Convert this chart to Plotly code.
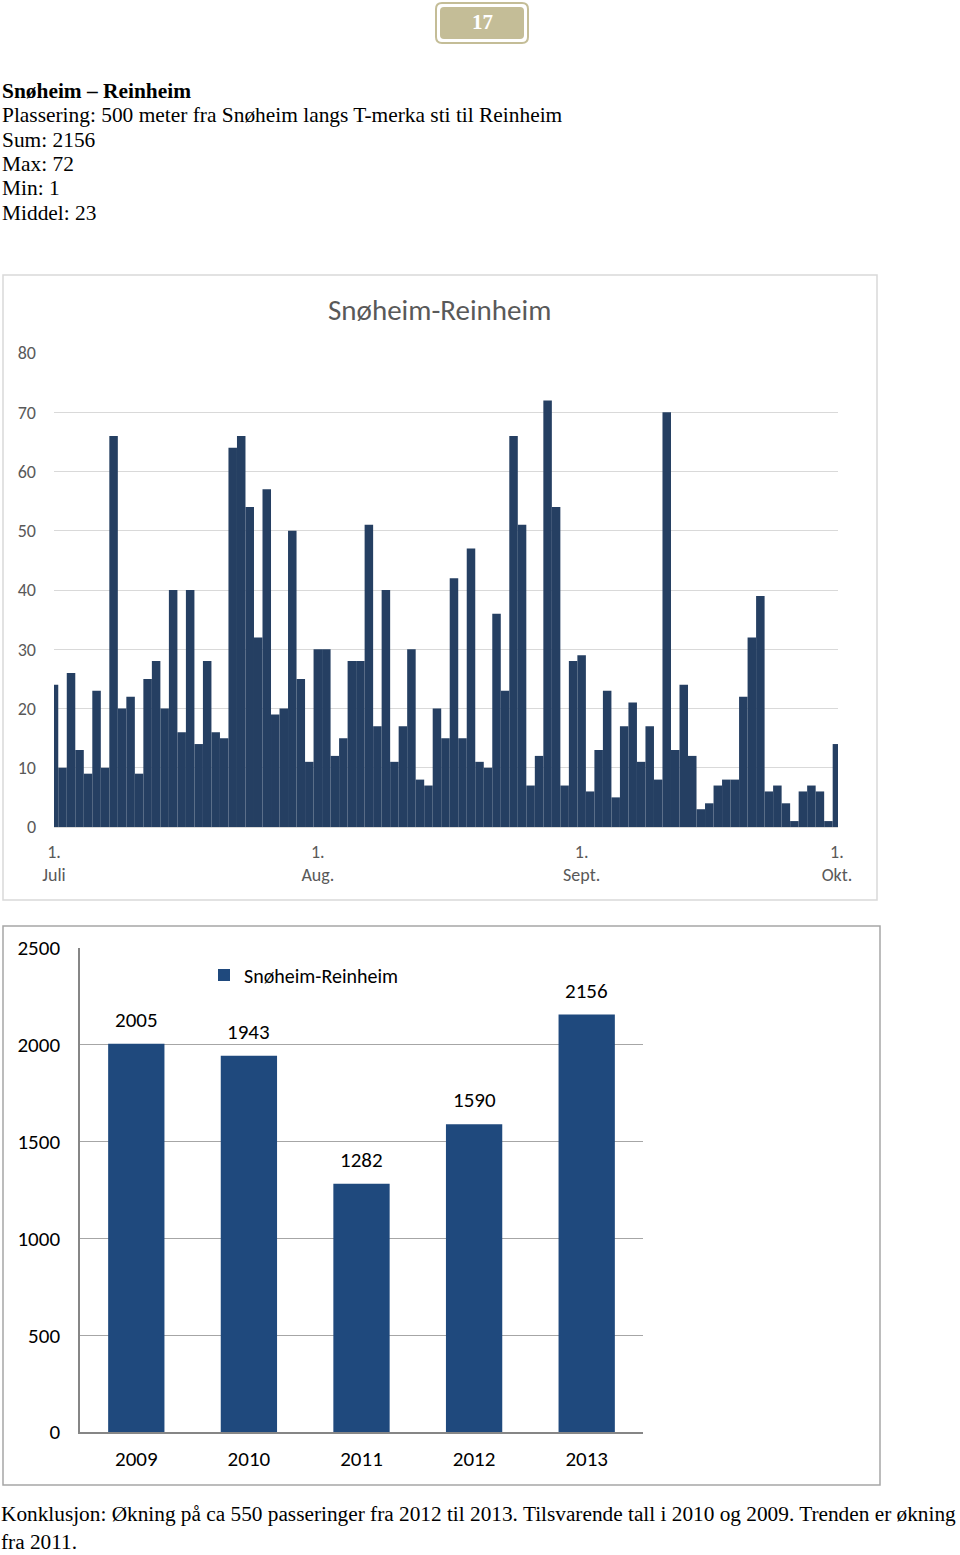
import plotly.graph_objects as go
import pandas as pd

W, H = 960, 1555

# ---------------- data ----------------
july = [24, 10, 26, 13, 9, 23, 10, 66, 20, 22, 9, 25, 28, 20, 40, 16, 40, 14, 28, 16,
        15, 64, 66, 54, 32, 57, 19, 20, 50, 25, 11]
aug = [30, 30, 12, 15, 28, 28, 51, 17, 40, 11, 17, 30, 8, 7, 20, 15, 42, 15, 47, 11,
       10, 36, 23, 66, 51, 7, 12, 72, 54, 7, 28]
sept = [29, 6, 13, 23, 5, 17, 21, 11, 17, 8, 70, 13, 24, 12, 3, 4, 7, 8, 8, 22,
        32, 39, 6, 7, 4, 1, 6, 7, 6, 1]
okt = [14]
daily = july + aug + sept + okt
dates = pd.date_range("2013-07-01", periods=len(daily), freq="D")

month_ticks = ["2013-07-01", "2013-08-01", "2013-09-01", "2013-10-01"]
month_labels = ["1.<br>Juli", "1.<br>Aug.", "1.<br>Sept.", "1.<br>Okt."]

years = ["2009", "2010", "2011", "2012", "2013"]
totals = [2005, 1943, 1282, 1590, 2156]

series_name = "Snøheim-Reinheim"

# ---------------- helpers ----------------
def px(x):
    return x / W

def py(y):
    return 1 - y / H

SANS = "Carlito, Lato, sans-serif"
SERIF = "Liberation Serif, Times New Roman, serif"

fig = go.Figure()
fig.add_trace(go.Bar(
    x=dates, y=daily, width=86400000,
    marker=dict(color="#253F62", line=dict(width=0)),
    xaxis="x", yaxis="y", showlegend=False, hoverinfo="x+y"))
fig.add_trace(go.Bar(
    x=years, y=totals, width=0.5, name=series_name,
    marker=dict(color="#1F497D", line=dict(width=0)),
    xaxis="x2", yaxis="y2", showlegend=True))

annotations = []
# data labels chart 2 (category index positions)
for i, v in enumerate(totals):
    annotations.append(dict(x=i, y=v, xref="x2", yref="y2", text=str(v),
                            showarrow=False, yanchor="bottom", yshift=9,
                            font=dict(family=SANS, size=21, color="#000000")))
# chart 1 title
annotations.append(dict(x=px(439.5), y=py(310), xref="paper", yref="paper",
                        text=series_name, showarrow=False, xanchor="center", yanchor="middle",
                        font=dict(family=SANS, size=29, color="#595959")))
# page number
annotations.append(dict(x=px(482), y=py(22), xref="paper", yref="paper", text="<b>17</b>",
                        showarrow=False, xanchor="center", yanchor="middle",
                        font=dict(family=SERIF, size=21, color="#FFFFFF")))
# header text block
header = [("<b>Snøheim – Reinheim</b>", 91),
          ("Plassering: 500 meter fra Snøheim langs T-merka sti til Reinheim", 115),
          ("Sum: 2156", 140),
          ("Max: 72", 164),
          ("Min: 1", 188),
          ("Middel: 23", 213)]
for t, yy in header:
    annotations.append(dict(x=0, y=py(yy), xref="paper", yref="paper", text=t,
                            showarrow=False, xanchor="left", yanchor="middle",
                            font=dict(family=SERIF, size=21.4, color="#000000")))
# footer text block (two lines)
footer = ("Konklusjon: Økning på ca 550 passeringer fra 2012 til 2013. Tilsvarende tall i 2010 og 2009. "
          "Trenden er økning<br>fra 2011.")
annotations.append(dict(x=0, y=0, xref="paper", yref="paper", text=footer, align="left",
                        showarrow=False, xanchor="left", yanchor="bottom", borderpad=0,
                        font=dict(family=SERIF, size=21.3, color="#000000")))


def rrect(x0, y0, x1, y1, r):
    return (f"M{px(x0 + r)},{py(y0)} L{px(x1 - r)},{py(y0)} Q{px(x1)},{py(y0)} {px(x1)},{py(y0 + r)} "
            f"L{px(x1)},{py(y1 - r)} Q{px(x1)},{py(y1)} {px(x1 - r)},{py(y1)} "
            f"L{px(x0 + r)},{py(y1)} Q{px(x0)},{py(y1)} {px(x0)},{py(y1 - r)} "
            f"L{px(x0)},{py(y0 + r)} Q{px(x0)},{py(y0)} {px(x0 + r)},{py(y0)} Z")

shapes = [
    # chart boxes
    dict(type="rect", xref="paper", yref="paper", x0=px(3), x1=px(877), y0=py(900), y1=py(275),
         line=dict(color="#D9D9D9", width=1.5), fillcolor="rgba(0,0,0,0)", layer="below"),
    dict(type="rect", xref="paper", yref="paper", x0=px(3), x1=px(880), y0=py(1485), y1=py(926),
         line=dict(color="#A6A6A6", width=1.5), fillcolor="rgba(0,0,0,0)", layer="below"),
    # page badge
    dict(type="path", xref="paper", yref="paper", path=rrect(436, 3, 528, 43, 6),
         line=dict(color="#C4BD97", width=2), fillcolor="rgba(0,0,0,0)"),
    dict(type="path", xref="paper", yref="paper", path=rrect(440, 7, 524, 39, 4),
         line=dict(width=0), fillcolor="#C4BD97", layer="below"),
]

fig.update_layout(
    template="none",
    width=W, height=H, margin=dict(l=0, r=0, t=0, b=0, pad=0, autoexpand=False),
    paper_bgcolor="#FFFFFF", plot_bgcolor="rgba(0,0,0,0)",
    font=dict(family=SANS),
    barmode="group",
    xaxis=dict(domain=[px(54), px(838)], anchor="y", type="date",
               range=["2013-07-01", "2013-10-01 03:00"],
               tickmode="array", tickvals=month_ticks, ticktext=month_labels,
               tickfont=dict(family=SANS, size=18, color="#595959"),
               showgrid=False, showline=False, zeroline=False, ticks="",
               ticklabelstandoff=12, automargin=False),
    yaxis=dict(domain=[py(827), py(353)], anchor="x", range=[0, 80], dtick=10,
               showgrid=True, gridcolor="#D9D9D9", gridwidth=1,
               zeroline=True, zerolinecolor="#D9D9D9", zerolinewidth=1,
               tickfont=dict(family=SANS, size=18, color="#595959"),
               ticks="", ticklabelstandoff=17, showline=False, automargin=False),
    xaxis2=dict(domain=[px(80), px(643)], anchor="y2", type="category",
                range=[-0.5, len(years) - 0.5],
                tickfont=dict(family=SANS, size=21, color="#000000"),
                showline=True, linecolor="#868686", linewidth=1.5,
                showgrid=False, zeroline=False, ticks="", ticklabelstandoff=7,
                automargin=False),
    yaxis2=dict(domain=[py(1432), py(948)], anchor="x2", range=[0, 2500], dtick=500,
                showgrid=True, gridcolor="#A6A6A6", gridwidth=1.2, zeroline=False,
                showline=True, linecolor="#868686", linewidth=1.5,
                tickfont=dict(family=SANS, size=21, color="#000000"),
                ticks="", ticklabelstandoff=14, automargin=False),
    legend=dict(x=px(204), y=py(975), xanchor="left", yanchor="middle",
                bgcolor="rgba(0,0,0,0)", borderwidth=0, itemwidth=30,
                font=dict(family=SANS, size=20, color="#000000")),
    annotations=annotations,
    shapes=shapes,
)

fig.write_html(
    "out.html",
    config={"displayModeBar": False},
    post_script="document.body.style.margin='0';document.body.style.padding='0';"
                "document.documentElement.style.overflow='hidden';window.dispatchEvent(new Event('resize'));",
)
